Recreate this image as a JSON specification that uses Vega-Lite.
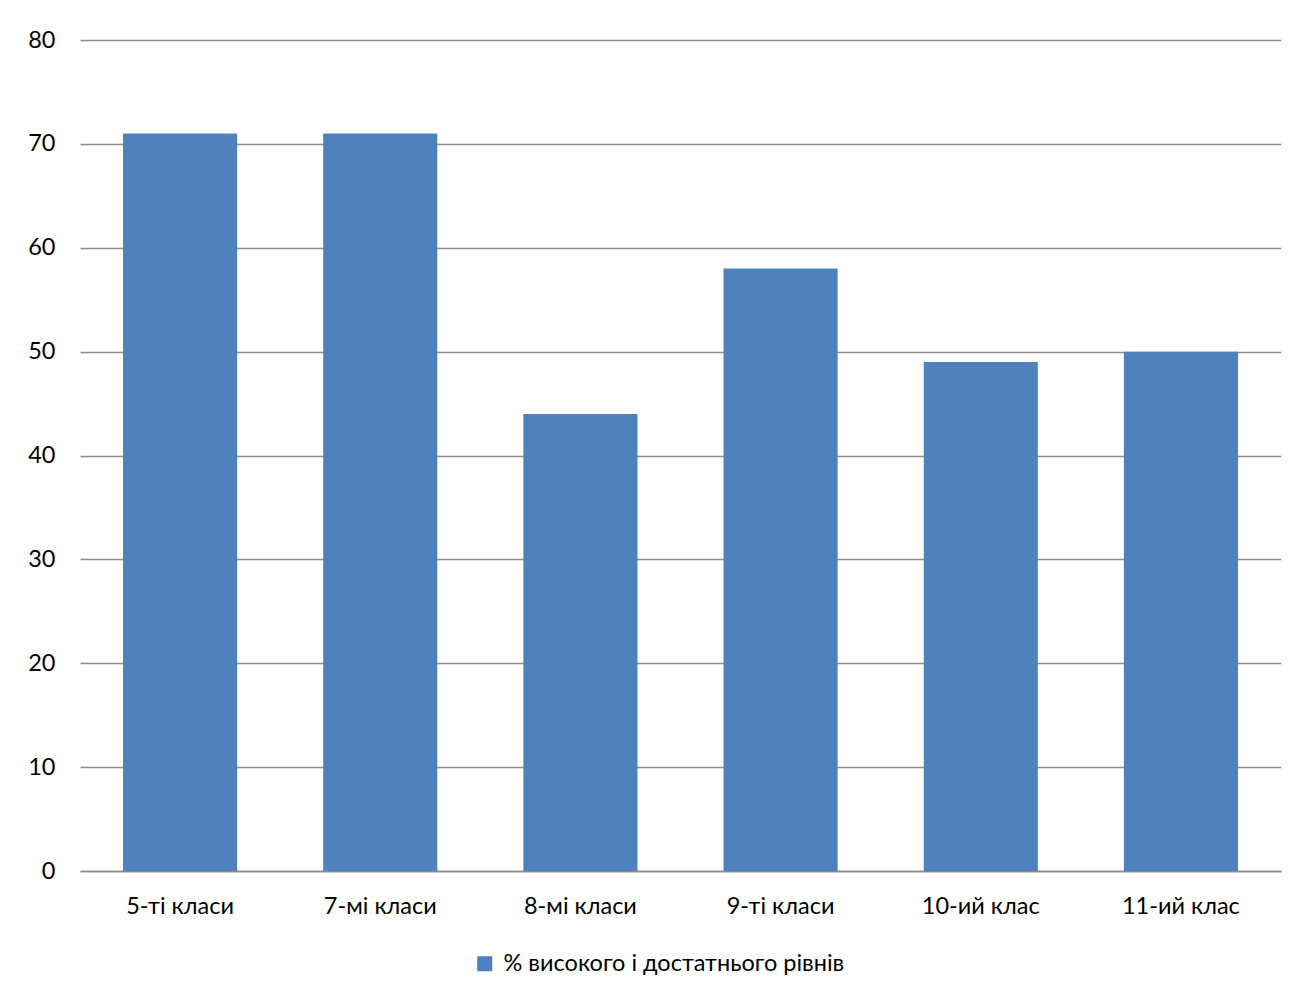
{
  "$schema": "https://vega.github.io/schema/vega-lite/v6.json",
  "autosize": {"type": "none"},
  "width": 1201,
  "height": 831,
  "padding": {"left": 80, "top": 40, "right": 10, "bottom": 126},
  "background": "white",
  "config": {
    "view": {"stroke": null},
    "font": "Lato",
    "axis": {"labelFont": "Lato", "labelFontSize": 23.5, "labelColor": "#000000"},
    "legend": {"labelFont": "Lato", "labelFontSize": 23.5, "labelColor": "#000000", "labelLimit": 0}
  },
  "data": {
    "values": [
      {"class": "5-ті класи", "value": 71, "series": "% високого і достатнього рівнів"},
      {"class": "7-мі класи", "value": 71, "series": "% високого і достатнього рівнів"},
      {"class": "8-мі класи", "value": 44, "series": "% високого і достатнього рівнів"},
      {"class": "9-ті класи", "value": 58, "series": "% високого і достатнього рівнів"},
      {"class": "10-ий клас", "value": 49, "series": "% високого і достатнього рівнів"},
      {"class": "11-ий клас", "value": 50, "series": "% високого і достатнього рівнів"}
    ]
  },
  "mark": {"type": "bar"},
  "encoding": {
    "x": {
      "field": "class",
      "type": "nominal",
      "sort": null,
      "scale": {"paddingInner": 0.43, "paddingOuter": 0.215},
      "axis": {"title": null, "labelAngle": 0, "ticks": false, "domain": true, "domainColor": "#8c8c8c", "domainWidth": 1.5, "labelPadding": 23}
    },
    "y": {
      "field": "value",
      "type": "quantitative",
      "scale": {"domain": [0, 80], "nice": false},
      "axis": {"title": null, "values": [0, 10, 20, 30, 40, 50, 60, 70, 80], "ticks": false, "domain": false, "grid": true, "gridColor": "#8c8c8c", "gridWidth": 1.5, "labelPadding": 25}
    },
    "color": {
      "field": "series",
      "type": "nominal",
      "scale": {"range": ["#4F81BD"]},
      "legend": {"title": null, "orient": "none", "legendX": 393, "legendY": 912, "symbolType": "square", "symbolSize": 225, "symbolStrokeWidth": 0, "labelOffset": 7}
    }
  }
}
